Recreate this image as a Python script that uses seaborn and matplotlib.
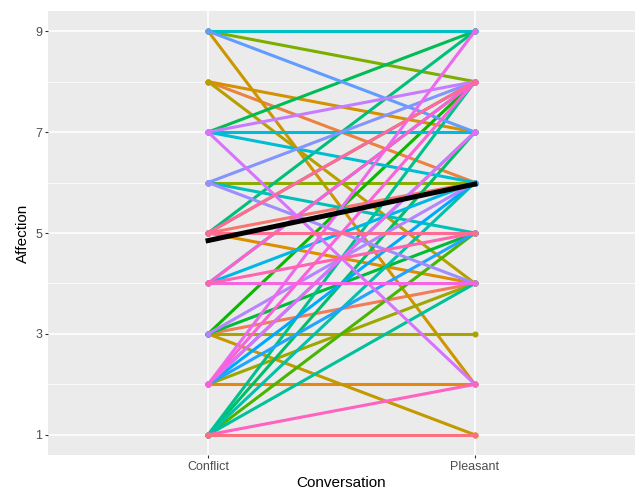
import numpy as np
import pandas as pd
import matplotlib
matplotlib.use("Agg")
import matplotlib.pyplot as plt
import seaborn as sns

# each subject's affection rating in the two conversations (subjects in id order)
conflict = [5, 3, 8, 2, 5, 8, 9, 3, 8, 3, 2, 6, 9, 5, 1, 3,
            3, 7, 1, 5, 1, 1, 1, 6, 9, 7, 7, 4, 2, 4, 2, 2,
            9, 6, 6, 3, 7, 7, 2, 2, 4, 2, 4, 1, 4, 5, 5, 1]
pleasant = [6, 4, 6, 2, 4, 7, 2, 1, 4, 3, 4, 6, 8, 8, 5, 8,
            5, 9, 7, 9, 8, 4, 6, 5, 9, 6, 7, 6, 7, 8, 6, 5,
            7, 8, 4, 6, 8, 2, 7, 9, 4, 8, 8, 2, 5, 8, 5, 1]
conversations = ["Conflict", "Pleasant"]
# thick black summary line
mean_affection = [4.85, 5.97]
yticks = [1, 3, 5, 7, 9]


def hcl(h, c=100, l=65):
    # ggplot-style hue colour (polar LUV -> sRGB)
    h = np.radians(h)
    u_, v_ = c * np.cos(h), c * np.sin(h)
    xn, yn, zn = 95.047, 100.0, 108.883
    un = 4 * xn / (xn + 15 * yn + 3 * zn)
    vn = 9 * yn / (xn + 15 * yn + 3 * zn)
    y = yn * ((l + 16) / 116) ** 3
    u = u_ / (13 * l) + un
    v = v_ / (13 * l) + vn
    x = 9 * y * u / (4 * v)
    z = -x / 3 - 5 * y + 3 * y / v
    xyz = np.array([x, y, z]) / 100
    m = np.array([[3.2406, -1.5372, -0.4986],
                  [-0.9689, 1.8758, 0.0415],
                  [0.0557, -0.2040, 1.0570]])
    rgb = m @ xyz
    rgb = np.where(rgb <= 0.0031308, 12.92 * rgb,
                   1.055 * np.clip(rgb, 0, None) ** (1 / 2.4) - 0.055)
    return tuple(np.clip(rgb, 0, 1))


n = len(conflict)
subjects = [f"s{i + 1}" for i in range(n)]
df = pd.DataFrame({
    "subject": subjects * 2,
    "Conversation": [conversations[0]] * n + [conversations[1]] * n,
    "Affection": conflict + pleasant,
})
palette = {s: hcl(15 + 360 * i / n) for i, s in enumerate(subjects)}

plt.rcParams["font.family"] = ["Liberation Sans", "DejaVu Sans"]
fig, ax = plt.subplots(figsize=(6.36, 4.92), dpi=100)
fig.subplots_adjust(left=48 / 636, right=635 / 636, top=1 - 11 / 492, bottom=1 - 455 / 492)

sns.lineplot(data=df, x="Conversation", y="Affection", hue="subject", palette=palette,
             estimator=None, units="subject", legend=False, linewidth=2.2,
             marker="o", markersize=4.4, markeredgewidth=0, ax=ax, sort=False)
sns.lineplot(x=conversations, y=mean_affection, color="black", linewidth=3.6, ax=ax)

ax.set_facecolor("#EBEBEB")
for s in ax.spines.values():
    s.set_visible(False)
ax.set_xlim(-0.6, 1.6)
ax.set_ylim(0.6, 9.4)
ax.set_yticks(yticks)
ax.set_yticks([2, 4, 6, 8], minor=True)
ax.grid(True, which="major", color="white", linewidth=1.1)
ax.grid(True, which="minor", axis="y", color="white", linewidth=0.55)
ax.set_axisbelow(True)
ax.tick_params(which="major", length=2.2, width=0.8, color="#333333",
               labelcolor="#4D4D4D", labelsize=9, pad=2)
ax.tick_params(which="minor", length=0)
ax.set_xlabel("Conversation", fontsize=11, labelpad=2)
ax.set_ylabel("Affection", fontsize=11, labelpad=4)

fig.savefig("out.png", dpi=100)
